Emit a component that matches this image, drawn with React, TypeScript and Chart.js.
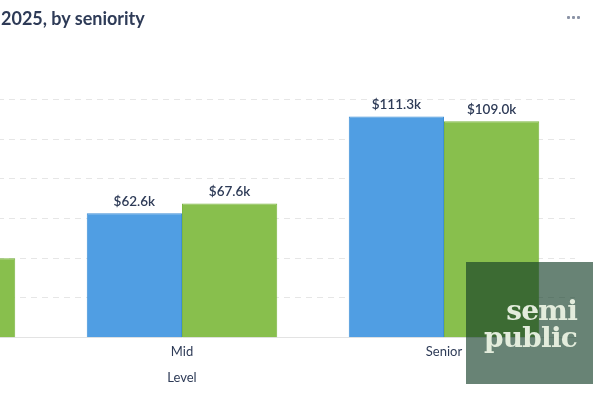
import React, { useEffect, useRef } from "react";
import { Chart, registerables } from "chart.js";

Chart.register(...registerables);

const categories = ["Junior", "Mid", "Senior"];
const series2024 = [36.5, 62.6, 111.3];
const series2025 = [40.0, 67.6, 109.0];
const seriesNames = ["2024", "2025"];
const yTicks = [0, 20, 40, 60, 80, 100, 120];
const titleText = "2025, by seniority";
const xTitle = "Level";

const NAVY = "#2e3b57";

const valueLabels = {
  id: "valueLabels",
  afterDatasetsDraw(chart: any) {
    const ctx = chart.ctx;
    ctx.save();
    ctx.font = "600 13.5px Lato";
    ctx.fillStyle = NAVY;
    ctx.textAlign = "center";
    ctx.textBaseline = "bottom";
    chart.data.datasets.forEach((ds: any, di: number) => {
      const meta = chart.getDatasetMeta(di);
      meta.data.forEach((bar: any, i: number) => {
        const v = ds.data[i];
        ctx.fillText("$" + v.toFixed(1) + "k", bar.x, bar.y - 5);
      });
    });
    ctx.restore();
  },
};

export default function App() {
  const ref = useRef<HTMLCanvasElement>(null);
  useEffect(() => {
    document.body.style.margin = "0";
    const chart = new Chart(ref.current!, {
      type: "bar",
      data: {
        labels: categories,
        datasets: [
          {
            label: seriesNames[0],
            data: series2024,
            backgroundColor: "#509ee3",
            borderColor: "#3f8fd6",
            borderWidth: 1,
            categoryPercentage: 0.727,
            barPercentage: 1,
          },
          {
            label: seriesNames[1],
            data: series2025,
            backgroundColor: "#88bf4d",
            borderColor: "#7db642",
            borderWidth: 1,
            categoryPercentage: 0.727,
            barPercentage: 1,
          },
        ],
      },
      options: {
        animation: false,
        responsive: false,
        layout: { padding: { left: 9, right: 20, top: 99.3, bottom: 12.3 } },
        plugins: { legend: { display: false }, tooltip: { enabled: false } },
        scales: {
          x: {
            grid: { display: false, drawTicks: false },
            border: { color: "#e3e3e3", width: 1 },
            ticks: { color: NAVY, font: { family: "Lato", size: 13 }, padding: 6 },
            title: {
              display: true,
              text: xTitle,
              color: NAVY,
              font: { family: "Lato", size: 13 },
              padding: { top: 4, bottom: 2 },
            },
            afterFit: (s: any) => {
              s.height = 50;
            },
          },
          y: {
            min: 0,
            max: 120,
            afterBuildTicks: (s: any) => {
              s.ticks = yTicks.map((v) => ({ value: v }));
            },
            grid: { color: "#e6e6e6", drawTicks: false },
            border: { display: false, dash: [6, 5] },
            ticks: {
              color: NAVY,
              font: { family: "Lato", size: 12 },
              callback: (v: any) => "$" + v + "k",
            },
            afterFit: (s: any) => {
              s.width = 60;
            },
          },
        },
      },
      plugins: [valueLabels],
    });
    return () => chart.destroy();
  }, []);

  return (
    <div style={{ position: "fixed", left: 0, top: 0, width: 600, height: 400, overflow: "hidden", background: "#fff" }}>
      <canvas ref={ref} width={875} height={400} style={{ position: "absolute", left: -280, top: 0, width: 875, height: 400 }} />
      <div
        style={{
          position: "absolute",
          left: 1,
          top: 5,
          fontFamily: "Lato",
          fontWeight: 700,
          fontSize: 18,
          color: NAVY,
          whiteSpace: "nowrap",
          lineHeight: "26px",
        }}
      >
        {titleText}
      </div>
      <div style={{ position: "absolute", left: 567, top: 16, display: "flex", gap: 2 }}>
        {[0, 1, 2].map((i) => (
          <div key={i} style={{ width: 3, height: 3, borderRadius: 1, background: "#8b93a6" }} />
        ))}
      </div>
      <div
        style={{
          position: "absolute",
          left: 466,
          top: 262,
          width: 127,
          height: 122,
          background: "rgba(16,58,36,0.63)",
        }}
      >
        <div
          style={{
            position: "absolute",
            right: 16,
            top: 35,
            fontFamily: "DejaVu Serif",
            fontWeight: 700,
            fontSize: 28,
            lineHeight: "27px",
            color: "#e3ecdc",
            textAlign: "right",
            letterSpacing: -0.8,
          }}
        >
          semi
          <br />
          public
        </div>
      </div>
    </div>
  );
}
